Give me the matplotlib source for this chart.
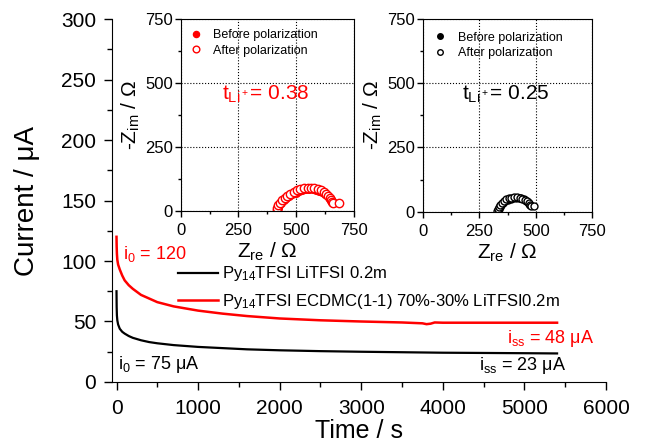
import matplotlib
matplotlib.use("Agg")
import matplotlib.pyplot as plt
from matplotlib.ticker import MultipleLocator

plt.rcParams["font.family"] = ["Liberation Sans", "DejaVu Sans"]
plt.rcParams["mathtext.fontset"] = "custom"
plt.rcParams["mathtext.rm"] = "Liberation Sans"
plt.rcParams["mathtext.it"] = "Liberation Sans:italic"

# chronoamperometry (main panel)
t_black = [0, 2, 5, 10, 20, 40, 70, 100, 150, 200, 300, 400, 500, 700, 1000,
           1300, 1600, 2000, 2500, 3000, 3500, 4000, 4500, 5000, 5400]
i_black = [75, 62, 55, 51, 47.5, 44, 41.5, 40, 38, 36.5, 34.5, 33, 32, 30.5, 29,
           28, 27, 26.2, 25.5, 25, 24.6, 24.2, 24, 23.8, 23.6]
t_red = [0, 2, 5, 10, 20, 40, 70, 100, 150, 200, 300, 400, 500, 700, 1000,
         1300, 1600, 2000, 2500, 3000, 3500, 3750, 3800, 3850, 3900, 4000,
         4500, 5000, 5400]
i_red = [120, 112, 106, 101, 97, 93, 88, 84, 80, 77, 72, 69, 66, 62.5, 59,
         56.5, 54.5, 52.5, 51, 50, 49.2, 48.5, 47.8, 48.2, 49.2, 49, 49, 49, 49]
label_black = r"Py$\mathregular{_{14}}$TFSI LiTFSI 0.2m"
label_red = r"Py$\mathregular{_{14}}$TFSI ECDMC(1-1) 70%-30% LiTFSI0.2m"

# impedance, inset 1 (red)
zre_red_before = [417, 421, 427, 435, 445, 456, 469, 483, 497, 512, 527, 542,
                  557, 572, 587, 600, 612, 623, 633, 641, 648, 653, 657]
zim_red_before = [2, 11, 21, 31, 40, 49, 57, 64, 71, 76, 80, 83,
                  84, 84, 82, 78, 73, 67, 60, 52, 44, 36, 29]
zre_red_after = [415, 418, 423, 430, 439, 450, 462, 475, 489, 503, 518, 533,
                 549, 564, 579, 593, 606, 618, 628, 637, 645, 651, 656, 660, 687]
zim_red_after = [3, 12, 22, 32, 41, 50, 58, 66, 73, 79, 84, 87,
                 89, 89, 87, 84, 79, 73, 66, 58, 50, 42, 35, 29, 29]

# impedance, inset 2 (black)
zre_blk_before = [332, 335, 340, 347, 355, 365, 376, 388, 400, 412, 424, 436,
                  447, 457, 465, 471, 476]
zim_blk_before = [2, 10, 18, 26, 33, 40, 46, 50, 53, 54, 54, 52,
                  48, 43, 37, 31, 26]
zre_blk_after = [330, 332, 336, 342, 350, 359, 369, 380, 392, 404, 416, 428,
                 440, 451, 461, 469, 475, 479, 490]
zim_blk_after = [3, 11, 19, 27, 35, 42, 48, 52, 55, 56, 56, 54,
                 51, 46, 40, 34, 28, 24, 24]

fig = plt.figure(figsize=(6.46, 4.43), dpi=100)
ax = fig.add_axes([0.1734, 0.1377, 0.7647, 0.8194])
ax.plot(t_black, i_black, color="black", lw=1.6, label=label_black)
ax.plot(t_red, i_red, color="red", lw=1.8, label=label_red)
ax.set_xlim(-55, 6000)
ax.set_ylim(0, 300)
ax.xaxis.set_major_locator(MultipleLocator(1000))
ax.xaxis.set_minor_locator(MultipleLocator(500))
ax.yaxis.set_major_locator(MultipleLocator(50))
ax.yaxis.set_minor_locator(MultipleLocator(25))
ax.spines["top"].set_visible(False)
ax.spines["right"].set_visible(False)
ax.tick_params(which="major", direction="out", length=6, width=1, labelsize=15)
ax.tick_params(which="minor", direction="out", length=3.5, width=1)
ax.tick_params(axis="x", which="major", pad=6)
ax.tick_params(axis="y", which="major", pad=5.5)
ax.set_xlabel("Time / s", fontsize=18, labelpad=1)
ax.set_ylabel("Current / μA", fontsize=20, labelpad=14)
ax.yaxis.set_label_coords(-0.145, 0.5)

ax.legend(loc="upper left", bbox_to_anchor=(0.2755, 0.403), bbox_transform=fig.transFigure,
          frameon=False, fontsize=12, handlelength=2.4, handletextpad=0.25,
          labelspacing=0.5, borderpad=0, borderaxespad=0)

ax.text(76, 102, r"i$\mathregular{_0}$ = 120", color="red", fontsize=13)
ax.text(18, 10.5, r"i$\mathregular{_0}$ = 75 μA", color="black", fontsize=13)
ax.text(4786, 32, r"i$\mathregular{_{ss}}$ = 48 μA", color="red", fontsize=13)
ax.text(4442, 10, r"i$\mathregular{_{ss}}$ = 23 μA", color="black", fontsize=13)


def style_inset(a):
    a.set_xlim(0, 750)
    a.set_ylim(0, 750)
    a.xaxis.set_major_locator(MultipleLocator(250))
    a.xaxis.set_minor_locator(MultipleLocator(125))
    a.yaxis.set_major_locator(MultipleLocator(250))
    a.yaxis.set_minor_locator(MultipleLocator(125))
    a.grid(True, which="major", color="black", linestyle=":", linewidth=0.8)
    a.tick_params(which="major", direction="out", length=4, width=1, labelsize=12)
    a.tick_params(which="minor", direction="out", length=2.5, width=1)
    a.tick_params(axis="y", which="major", pad=1.5)
    a.tick_params(axis="x", which="major", pad=5)
    a.set_xlabel(r"Z$\mathregular{_{re}}$ / Ω", fontsize=15, labelpad=2)
    a.set_ylabel(r"-Z$\mathregular{_{im}}$ / Ω", fontsize=15, labelpad=2)
    a.patch.set_facecolor("white")


ins1 = fig.add_axes([0.2797, 0.5244, 0.2683, 0.4327])
ins1.plot(zre_red_before, zim_red_before, "o", color="red", ms=5.5, label="Before polarization")
ins1.plot(zre_red_after, zim_red_after, "o", mfc="white", mec="red", mew=1, ms=6,
          label="After polarization")
style_inset(ins1)
ins1.legend(loc="upper left", frameon=False, fontsize=9, handlelength=0.8,
            handletextpad=1.0, labelspacing=0.3, borderaxespad=0.4, markerscale=0.8)
ins1.text(178, 436, r"t$\mathregular{_{Li^+}}$= 0.38", color="red", fontsize=15)

ins2 = fig.add_axes([0.6543, 0.5221, 0.2628, 0.4350])
ins2.plot(zre_blk_before, zim_blk_before, "o", color="black", ms=5, label="Before polarization")
ins2.plot(zre_blk_after, zim_blk_after, "o", mfc="white", mec="black", mew=1, ms=5,
          label="After polarization")
style_inset(ins2)
ins2.legend(loc="upper left", frameon=False, fontsize=9, handlelength=0.8,
            handletextpad=1.0, labelspacing=0.3, borderaxespad=0.6, markerscale=0.8)
ins2.text(174, 434, r"t$\mathregular{_{Li^+}}$= 0.25", color="black", fontsize=15)

fig.savefig("out.png", dpi=100)
